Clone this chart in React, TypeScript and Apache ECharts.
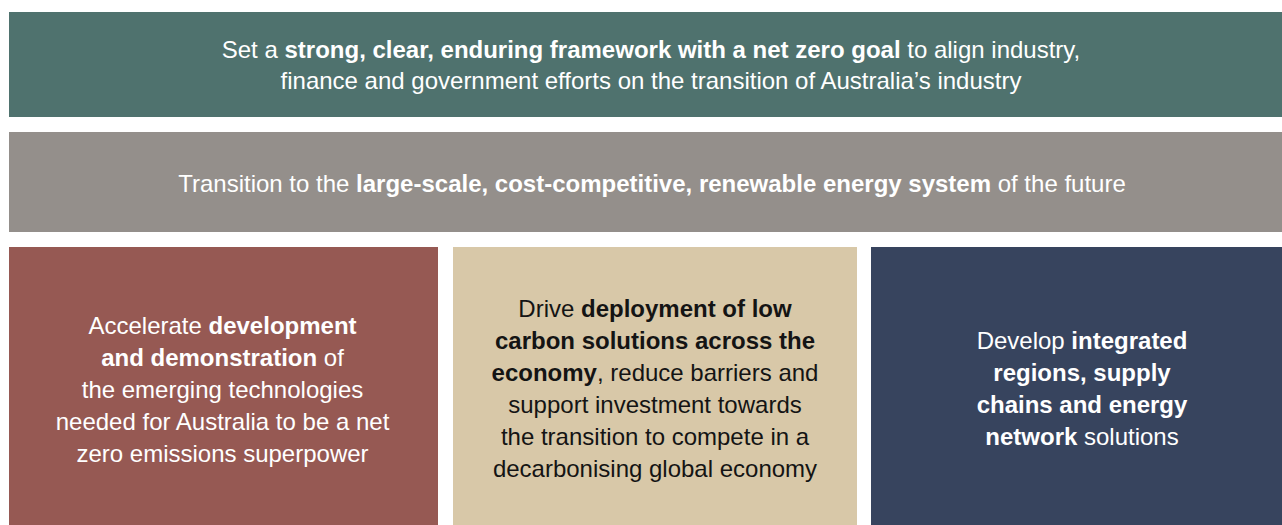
import React, { useEffect, useRef } from "react";
import * as echarts from "echarts";

// Text content of each panel: each line is a list of [weight, text] segments ("n" normal, "b" bold)
const frameworkLines: [string, string][][] = [
  [["n", "Set a "], ["b", "strong, clear, enduring framework with a net zero goal"], ["n", " to align industry,"]],
  [["n", "finance and government efforts on the transition of Australia\u2019s industry"]],
];
const energyLines: [string, string][][] = [
  [["n", "Transition to the "], ["b", "large-scale, cost-competitive, renewable energy system"], ["n", " of the future"]],
];
const developmentLines: [string, string][][] = [
  [["n", "Accelerate "], ["b", "development"]],
  [["b", "and demonstration"], ["n", " of"]],
  [["n", "the emerging technologies"]],
  [["n", "needed for Australia to be a net"]],
  [["n", "zero emissions superpower"]],
];
const deploymentLines: [string, string][][] = [
  [["n", "Drive "], ["b", "deployment of low"]],
  [["b", "carbon solutions across the"]],
  [["b", "economy"], ["n", ", reduce barriers and"]],
  [["n", "support investment towards"]],
  [["n", "the transition to compete in a"]],
  [["n", "decarbonising global economy"]],
];
const regionsLines: [string, string][][] = [
  [["n", "Develop "], ["b", "integrated"]],
  [["b", "regions, supply"]],
  [["b", "chains and energy"]],
  [["b", "network"], ["n", " solutions"]],
];

const FONT = "Liberation Sans, Arial, Helvetica, sans-serif";
const FONT_SIZE = 24;
const LINE_H = 32;

type Panel = {
  lines: [string, string][][];
  x: number; y: number; w: number; h: number;
  fill: string; color: string; cx: number; cy: number; lh: number;
};

const panels: Panel[] = [
  { lines: frameworkLines, x: 9, y: 12, w: 1284, h: 105, fill: "#4F726E", color: "#ffffff", cx: 651, cy: 64.5, lh: 31 },
  { lines: energyLines, x: 9, y: 132, w: 1284, h: 100, fill: "#948F8B", color: "#ffffff", cx: 652, cy: 183, lh: 31 },
  { lines: developmentLines, x: 9, y: 247, w: 429, h: 290, fill: "#965953", color: "#ffffff", cx: 222.5, cy: 389, lh: LINE_H },
  { lines: deploymentLines, x: 453, y: 247, w: 404, h: 290, fill: "#D8C8A8", color: "#141414", cx: 655, cy: 388, lh: LINE_H },
  { lines: regionsLines, x: 871, y: 247, w: 422, h: 290, fill: "#37445E", color: "#ffffff", cx: 1082, cy: 388, lh: LINE_H },
];

function buildGraphic() {
  const els: any[] = [];
  panels.forEach((p) => {
    els.push({
      type: "rect",
      shape: { x: p.x, y: p.y, width: p.w, height: p.h },
      style: { fill: p.fill },
      silent: true,
    });
    const n = p.lines.length;
    p.lines.forEach((segs, i) => {
      const y = p.cy + (i - (n - 1) / 2) * p.lh;
      const text = segs.map(([w, t]) => `{${w}|${t}}`).join("");
      els.push({
        type: "text",
        x: p.cx,
        y,
        silent: true,
        style: {
          text,
          align: "center",
          verticalAlign: "middle",
          fill: p.color,
          fontFamily: FONT,
          fontSize: FONT_SIZE,
          rich: {
            n: { fontWeight: "normal", fontFamily: FONT, fontSize: FONT_SIZE, fill: p.color },
            b: { fontWeight: "bold", fontFamily: FONT, fontSize: FONT_SIZE, fill: p.color },
          },
        },
      });
    });
  });
  return els;
}

export default function App() {
  const ref = useRef<HTMLDivElement>(null);
  useEffect(() => {
    if (!ref.current) return;
    const chart = echarts.init(ref.current, undefined, { renderer: "svg" });
    chart.setOption({
      animation: false,
      backgroundColor: "#ffffff",
      graphic: { elements: buildGraphic() },
    });
    return () => chart.dispose();
  }, []);
  return (
    <div
      ref={ref}
      style={{ position: "fixed", left: 0, top: 0, width: 1282, height: 525, background: "#fff" }}
    />
  );
}
